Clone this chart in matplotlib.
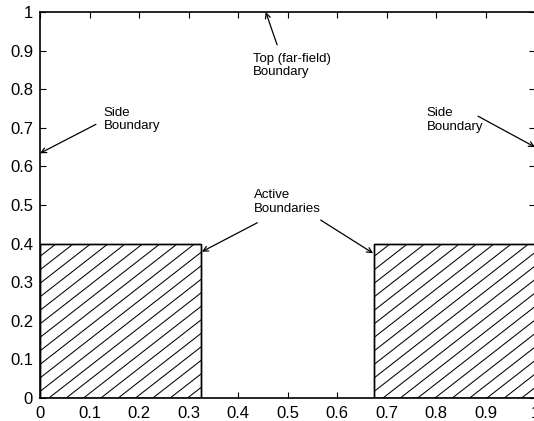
import matplotlib
matplotlib.use('Agg')
import matplotlib.pyplot as plt
import numpy as np
from matplotlib.patches import Rectangle

plt.rcParams['font.family'] = ['Liberation Sans', 'DejaVu Sans']

# active regions along the bottom boundary
block_left = [0.0, 0.675]
block_right = [0.325, 1.0]
block_height = 0.4

xticks = np.round(np.arange(0, 1.01, 0.1), 1)
yticks = np.round(np.arange(0, 1.01, 0.1), 1)
xtick_labels = ['0', '0.1', '0.2', '0.3', '0.4', '0.5', '0.6', '0.7', '0.8', '0.9', '1']
ytick_labels = ['0', '0.1', '0.2', '0.3', '0.4', '0.5', '0.6', '0.7', '0.8', '0.9', '1']

hatch_step = 0.035   # spacing of the 45 degree hatch lines (data units)
hatch_phase = 0.033


def hatch_block(ax, x0, x1, h):
    '''outlined rectangle filled with diagonal lines clipped to it'''
    rect = Rectangle((x0, 0), x1 - x0, h, facecolor='white',
                     edgecolor='black', linewidth=1.0, zorder=2)
    ax.add_patch(rect)
    # lines y = h + (x - xs), xs is where the line meets the top edge
    xs_all = np.arange(x0 + hatch_phase, x1 + h + hatch_step, hatch_step)
    for xs in xs_all:
        xx = np.array([x0, x1])
        yy = h + (xx - xs)
        ln, = ax.plot(xx, yy, color='black', linewidth=0.75, zorder=3)
        ln.set_clip_path(rect)
    # redraw outline over the hatching
    ax.add_patch(Rectangle((x0, 0), x1 - x0, h, facecolor='none',
                           edgecolor='black', linewidth=1.0, zorder=4))


fig = plt.figure(figsize=(5.34, 4.21), dpi=100)
ax = fig.add_axes([40/534, 23/421, 495/534, 386/421])

for x0, x1 in zip(block_left, block_right):
    hatch_block(ax, x0, x1, block_height)

ax.set_xlim(0, 1)
ax.set_ylim(0, 1)
ax.set_xticks(xticks)
ax.set_xticklabels(xtick_labels)
ax.set_yticks(yticks)
ax.set_yticklabels(ytick_labels)
ax.tick_params(direction='in', top=True, right=True, length=4, width=0.8,
               labelsize=12)
ax.tick_params(axis='x', pad=6)
ax.tick_params(axis='y', pad=5)
for sp in ax.spines.values():
    sp.set_linewidth(1.2)

arrow = dict(arrowstyle='->', color='black', linewidth=0.9,
             shrinkA=0, shrinkB=0, mutation_scale=9)
fs = 9.5

# side boundaries
ax.text(0.129, 0.755, 'Side\nBoundary', fontsize=fs, va='top', ha='left')
ax.annotate('', xy=(0.0, 0.634), xytext=(0.113, 0.709), arrowprops=arrow)
ax.text(0.781, 0.753, 'Side\nBoundary', fontsize=fs, va='top', ha='left')
ax.annotate('', xy=(1.0, 0.65), xytext=(0.885, 0.730), arrowprops=arrow,
            annotation_clip=False)

# top boundary
ax.text(0.431, 0.895, 'Top (far-field)\nBoundary', fontsize=fs, va='top', ha='left')
ax.annotate('', xy=(0.456, 1.0), xytext=(0.479, 0.915), arrowprops=arrow,
            annotation_clip=False)

# active boundaries
ax.text(0.433, 0.541, 'Active\nBoundaries', fontsize=fs, va='top', ha='left')
ax.annotate('', xy=(block_right[0] + 0.002, 0.379), xytext=(0.439, 0.454),
            arrowprops=arrow)
ax.annotate('', xy=(block_left[1] - 0.002, 0.375), xytext=(0.567, 0.461),
            arrowprops=arrow)

fig.savefig('out.png', dpi=100)
